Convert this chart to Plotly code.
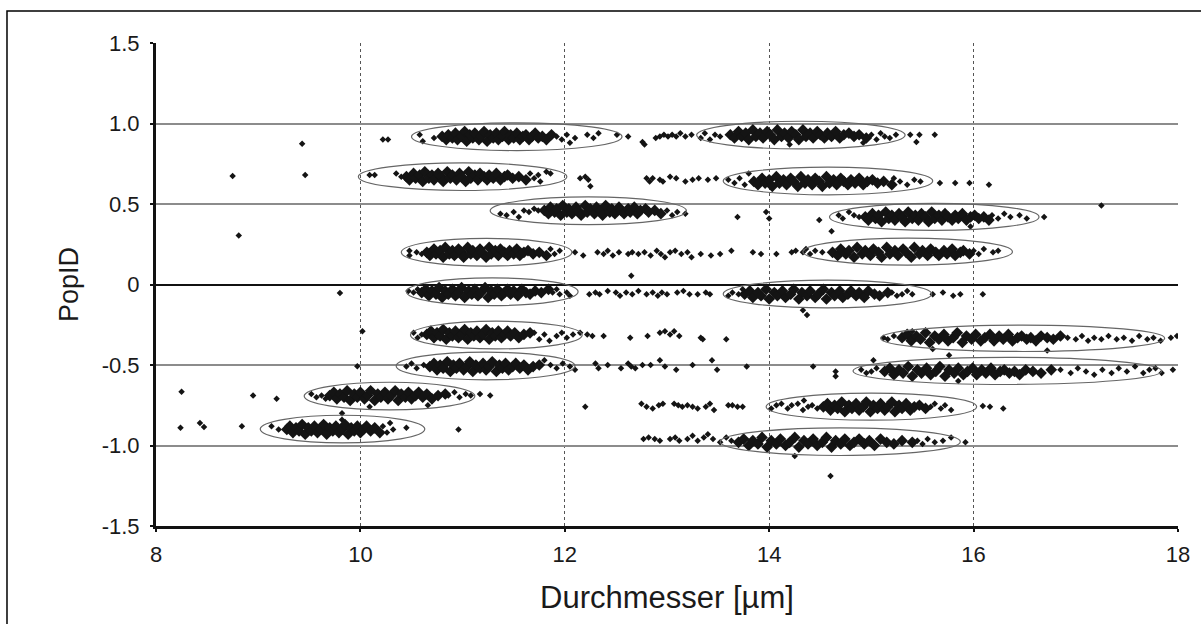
import plotly.graph_objects as go

# ---------------- data ----------------
x_ticks = [8, 10, 12, 14, 16, 18]
y_ticks = [-1.5, -1.0, -0.5, 0, 0.5, 1.0, 1.5]
y_ticktext = ["-1.5", "-1.0", "-0.5", "0", "0.5", "1.0", "1.5"]

# dense population cores (x = Durchmesser, y = PopID)
A_x = [10.80,10.84,10.86,10.90,10.93,10.95,10.99,11.02,11.04,11.07,11.10,11.12,11.16,11.18,11.21,11.24,11.27,11.30,11.33,11.35,11.39,11.41,11.45,11.47,11.50,11.53,11.56,11.59,11.62,11.65,11.68,11.71,11.74,11.78,11.82,11.87]
A_y = [0.92,0.90,0.93,0.91,0.94,0.90,0.92,0.95,0.89,0.93,0.91,0.94,0.90,0.92,0.95,0.89,0.93,0.91,0.94,0.90,0.92,0.95,0.90,0.93,0.91,0.94,0.90,0.92,0.93,0.90,0.92,0.94,0.91,0.92,0.90,0.93]
B_x = [10.45,10.48,10.52,10.54,10.58,10.61,10.63,10.67,10.70,10.72,10.76,10.79,10.81,10.85,10.88,10.90,10.94,10.97,10.99,11.03,11.06,11.08,11.12,11.15,11.17,11.21,11.24,11.26,11.30,11.33,11.37,11.41,11.44,11.49,11.55,11.62]
B_y = [0.67,0.65,0.69,0.66,0.68,0.64,0.70,0.66,0.68,0.65,0.69,0.67,0.64,0.70,0.66,0.68,0.65,0.69,0.67,0.64,0.70,0.66,0.68,0.65,0.69,0.67,0.65,0.68,0.66,0.69,0.65,0.67,0.68,0.66,0.67,0.65]
C_x = [11.80,11.84,11.86,11.90,11.92,11.96,11.98,12.02,12.04,12.07,12.11,12.13,12.16,12.20,12.22,12.25,12.29,12.31,12.35,12.37,12.40,12.44,12.46,12.49,12.53,12.55,12.58,12.62,12.64,12.68,12.71,12.74,12.79,12.82,12.88,12.94]
C_y = [0.46,0.44,0.48,0.45,0.47,0.43,0.49,0.45,0.47,0.44,0.48,0.46,0.43,0.49,0.45,0.47,0.44,0.48,0.46,0.43,0.49,0.45,0.47,0.44,0.48,0.46,0.44,0.47,0.45,0.48,0.44,0.46,0.47,0.45,0.46,0.44]
D_x = [10.65,10.68,10.72,10.74,10.78,10.81,10.83,10.87,10.90,10.92,10.96,10.99,11.01,11.05,11.08,11.10,11.14,11.17,11.19,11.23,11.26,11.28,11.32,11.35,11.37,11.41,11.44,11.46,11.50,11.53,11.56,11.60,11.64,11.69,11.75,11.82]
D_y = [0.20,0.18,0.22,0.19,0.21,0.17,0.23,0.19,0.21,0.18,0.22,0.20,0.17,0.23,0.19,0.21,0.18,0.22,0.20,0.17,0.23,0.19,0.21,0.18,0.22,0.20,0.18,0.21,0.19,0.22,0.18,0.20,0.21,0.19,0.20,0.18]
E_x = [10.60,10.64,10.67,10.70,10.74,10.77,10.80,10.83,10.86,10.90,10.93,10.96,10.99,11.02,11.06,11.09,11.12,11.15,11.18,11.22,11.25,11.28,11.31,11.34,11.38,11.41,11.44,11.47,11.50,11.54,11.58,11.62,11.66,11.71,11.77,11.84]
E_y = [-0.05,-0.03,-0.07,-0.04,-0.06,-0.02,-0.08,-0.04,-0.06,-0.03,-0.07,-0.05,-0.02,-0.08,-0.04,-0.06,-0.03,-0.07,-0.05,-0.02,-0.08,-0.04,-0.06,-0.03,-0.07,-0.05,-0.03,-0.06,-0.04,-0.07,-0.03,-0.05,-0.06,-0.04,-0.05,-0.03]
F_x = [13.62,13.66,13.70,13.73,13.77,13.80,13.84,13.87,13.91,13.94,13.98,14.01,14.05,14.08,14.12,14.15,14.19,14.22,14.26,14.29,14.33,14.36,14.40,14.43,14.47,14.50,14.54,14.57,14.61,14.65,14.69,14.73,14.78,14.83,14.88,14.95]
F_y = [0.93,0.91,0.95,0.92,0.94,0.90,0.96,0.92,0.94,0.91,0.95,0.93,0.90,0.96,0.92,0.94,0.91,0.95,0.93,0.90,0.96,0.92,0.94,0.91,0.95,0.93,0.91,0.94,0.92,0.95,0.91,0.93,0.94,0.92,0.93,0.91]
G_x = [13.85,13.89,13.93,13.96,14.00,14.03,14.07,14.10,14.14,14.17,14.21,14.24,14.28,14.31,14.35,14.38,14.42,14.45,14.49,14.52,14.56,14.59,14.63,14.66,14.70,14.73,14.77,14.80,14.84,14.88,14.92,14.96,15.01,15.06,15.12,15.20]
G_y = [0.64,0.62,0.66,0.63,0.65,0.61,0.67,0.63,0.65,0.62,0.66,0.64,0.61,0.67,0.63,0.65,0.62,0.66,0.64,0.61,0.67,0.63,0.65,0.62,0.66,0.64,0.62,0.65,0.63,0.66,0.62,0.64,0.65,0.63,0.64,0.62]
H_x = [14.94,14.97,15.01,15.04,15.07,15.10,15.14,15.17,15.20,15.23,15.27,15.30,15.33,15.36,15.40,15.43,15.46,15.49,15.53,15.56,15.59,15.62,15.66,15.69,15.72,15.75,15.79,15.82,15.85,15.89,15.93,15.97,16.01,16.05,16.10,16.15]
H_y = [0.42,0.40,0.44,0.41,0.43,0.39,0.45,0.41,0.43,0.40,0.44,0.42,0.39,0.45,0.41,0.43,0.40,0.44,0.42,0.39,0.45,0.41,0.43,0.40,0.44,0.42,0.40,0.43,0.41,0.44,0.40,0.42,0.43,0.41,0.42,0.40]
I_x = [14.62,14.67,14.70,14.75,14.78,14.83,14.86,14.91,14.94,14.99,15.02,15.07,15.10,15.15,15.18,15.23,15.26,15.31,15.34,15.39,15.42,15.47,15.50,15.55,15.58,15.63,15.66,15.71,15.74,15.79,15.82,15.87,15.90,15.96]
I_y = [0.20,0.18,0.22,0.19,0.21,0.17,0.23,0.19,0.21,0.18,0.22,0.20,0.17,0.23,0.19,0.21,0.18,0.22,0.20,0.17,0.23,0.19,0.21,0.18,0.22,0.20,0.18,0.21,0.19,0.22,0.18,0.20,0.21,0.19]
J_x = [13.76,13.81,13.84,13.89,13.92,13.97,14.00,14.05,14.08,14.13,14.16,14.21,14.24,14.29,14.32,14.37,14.40,14.45,14.48,14.53,14.56,14.61,14.64,14.69,14.72,14.77,14.80,14.85,14.88,14.93,14.97,15.03,15.08,15.16]
J_y = [-0.06,-0.04,-0.08,-0.05,-0.07,-0.03,-0.09,-0.05,-0.07,-0.04,-0.08,-0.06,-0.03,-0.09,-0.05,-0.07,-0.04,-0.08,-0.06,-0.03,-0.09,-0.05,-0.07,-0.04,-0.08,-0.06,-0.04,-0.07,-0.05,-0.08,-0.04,-0.06,-0.07,-0.05]
K_x = [15.30,15.35,15.39,15.44,15.48,15.53,15.57,15.62,15.66,15.71,15.75,15.80,15.84,15.89,15.93,15.98,16.02,16.07,16.11,16.16,16.20,16.25,16.29,16.34,16.38,16.43,16.47,16.52,16.56,16.61,16.66,16.72,16.78,16.85]
K_y = [-0.33,-0.31,-0.35,-0.32,-0.34,-0.30,-0.36,-0.32,-0.34,-0.31,-0.35,-0.33,-0.30,-0.36,-0.32,-0.34,-0.31,-0.35,-0.33,-0.31,-0.35,-0.32,-0.34,-0.31,-0.35,-0.33,-0.32,-0.34,-0.33,-0.35,-0.32,-0.33,-0.34,-0.32]
L_x = [15.13,15.18,15.22,15.27,15.31,15.36,15.40,15.45,15.49,15.54,15.58,15.63,15.67,15.72,15.76,15.81,15.85,15.90,15.94,15.99,16.03,16.08,16.12,16.17,16.21,16.26,16.30,16.35,16.40,16.45,16.51,16.58,16.66,16.76]
L_y = [-0.54,-0.52,-0.56,-0.53,-0.55,-0.51,-0.57,-0.53,-0.55,-0.52,-0.56,-0.54,-0.51,-0.57,-0.53,-0.55,-0.52,-0.56,-0.54,-0.52,-0.56,-0.53,-0.55,-0.52,-0.56,-0.54,-0.53,-0.55,-0.54,-0.56,-0.53,-0.54,-0.55,-0.53]
M_x = [10.65,10.69,10.72,10.75,10.78,10.81,10.84,10.87,10.90,10.93,10.96,10.99,11.02,11.05,11.08,11.11,11.14,11.17,11.20,11.23,11.26,11.29,11.32,11.35,11.38,11.41,11.44,11.47,11.51,11.55,11.60,11.66]
M_y = [-0.31,-0.29,-0.33,-0.30,-0.32,-0.28,-0.34,-0.30,-0.32,-0.29,-0.33,-0.31,-0.28,-0.34,-0.30,-0.32,-0.29,-0.33,-0.31,-0.28,-0.34,-0.30,-0.32,-0.29,-0.33,-0.31,-0.29,-0.32,-0.30,-0.33,-0.31,-0.30]
N_x = [10.68,10.72,10.75,10.78,10.81,10.85,10.88,10.91,10.94,10.97,11.01,11.04,11.07,11.10,11.13,11.17,11.20,11.23,11.26,11.29,11.33,11.36,11.39,11.42,11.45,11.49,11.52,11.56,11.60,11.64,11.69,11.75]
N_y = [-0.51,-0.49,-0.53,-0.50,-0.52,-0.48,-0.54,-0.50,-0.52,-0.49,-0.53,-0.51,-0.48,-0.54,-0.50,-0.52,-0.49,-0.53,-0.51,-0.48,-0.54,-0.50,-0.52,-0.49,-0.53,-0.51,-0.49,-0.52,-0.50,-0.53,-0.51,-0.50]
O_x = [9.70,9.74,9.77,9.80,9.84,9.87,9.90,9.94,9.97,10.00,10.04,10.07,10.10,10.14,10.17,10.20,10.24,10.27,10.30,10.34,10.37,10.40,10.44,10.47,10.50,10.54,10.57,10.61,10.65,10.70,10.76,10.83]
O_y = [-0.69,-0.67,-0.71,-0.68,-0.70,-0.66,-0.72,-0.68,-0.70,-0.67,-0.71,-0.69,-0.66,-0.72,-0.68,-0.70,-0.67,-0.71,-0.69,-0.66,-0.72,-0.68,-0.70,-0.67,-0.71,-0.69,-0.67,-0.70,-0.68,-0.71,-0.69,-0.68]
P_x = [9.28,9.31,9.34,9.37,9.40,9.43,9.46,9.49,9.52,9.55,9.58,9.61,9.64,9.67,9.70,9.73,9.76,9.79,9.82,9.85,9.88,9.91,9.94,9.97,10.00,10.03,10.06,10.10,10.14,10.19]
P_y = [-0.90,-0.88,-0.92,-0.89,-0.91,-0.87,-0.93,-0.89,-0.91,-0.88,-0.92,-0.90,-0.87,-0.93,-0.89,-0.91,-0.88,-0.92,-0.90,-0.87,-0.93,-0.89,-0.91,-0.88,-0.92,-0.90,-0.88,-0.91,-0.89,-0.92]
Q_x = [14.53,14.57,14.60,14.64,14.67,14.71,14.74,14.78,14.81,14.85,14.88,14.92,14.95,14.99,15.02,15.06,15.09,15.13,15.16,15.20,15.23,15.27,15.30,15.34,15.38,15.42,15.47,15.53]
Q_y = [-0.76,-0.74,-0.78,-0.75,-0.77,-0.73,-0.79,-0.75,-0.77,-0.74,-0.78,-0.76,-0.73,-0.79,-0.75,-0.77,-0.74,-0.78,-0.76,-0.73,-0.79,-0.75,-0.77,-0.74,-0.78,-0.76,-0.75,-0.77]
R_x = [13.70,13.75,13.80,13.84,13.89,13.93,13.98,14.02,14.07,14.11,14.16,14.20,14.25,14.29,14.34,14.38,14.43,14.47,14.52,14.56,14.61,14.65,14.70,14.74,14.79,14.83,14.88,14.93,14.98,15.03,15.09,15.15,15.22,15.30,15.40]
R_y = [-0.98,-0.96,-1.00,-0.97,-0.99,-0.95,-1.01,-0.97,-0.99,-0.96,-1.00,-0.98,-0.95,-1.01,-0.97,-0.99,-0.96,-1.00,-0.98,-0.95,-1.01,-0.97,-0.99,-0.96,-1.00,-0.98,-0.96,-0.99,-0.97,-1.00,-0.96,-0.98,-0.99,-0.97,-0.98]

# sparse / scattered events (x, y)
sparse_top = [(10.22,0.90),(10.27,0.90),(10.58,0.93),(10.61,0.89),(10.72,0.91),(11.92,0.92),(11.97,0.90),(12.02,0.93),
              (12.05,0.88),(12.10,0.91),(12.22,0.93),(12.28,0.91),(12.33,0.94),(12.51,0.93),(12.62,0.92),(12.76,0.885),
              (12.78,0.87),(12.89,0.91),(12.93,0.92),(12.97,0.93),(13.01,0.92),(13.05,0.93),(13.09,0.92),(13.13,0.94),
              (13.18,0.92),(13.24,0.93),(13.33,0.91),(13.37,0.94),(13.42,0.90),(13.47,0.93),(13.52,0.92),(15.00,0.93),
              (15.05,0.90),(15.09,0.94),(15.13,0.92),(15.18,0.91),(15.24,0.93),(15.38,0.93),(15.44,0.885),(15.47,0.93),
              (15.62,0.93),(14.20,0.87),(14.92,0.88),(9.43,0.875)]
sparse_b = [(8.75,0.674),(9.46,0.68),(10.09,0.68),(10.14,0.68),(10.35,0.69),(10.40,0.67),(11.66,0.69),(11.70,0.66),
            (11.74,0.68),(11.76,0.64),(11.82,0.70),(11.86,0.69),(12.15,0.66),(12.20,0.67),(12.23,0.65),(12.25,0.61),
            (12.80,0.66),(12.83,0.64),(12.86,0.66),(12.93,0.65),(12.96,0.64),(13.03,0.67),(13.09,0.66),(13.18,0.64),
            (13.25,0.65),(13.31,0.66),(13.40,0.65),(13.48,0.66),(13.60,0.65),(13.66,0.63),(13.71,0.66),(13.76,0.62),
            (13.80,0.69),(15.22,0.66),(15.28,0.64),(15.35,0.62),(15.42,0.65),(15.48,0.64),(15.67,0.63),(15.82,0.63),
            (15.96,0.63),(16.15,0.62)]
sparse_c = [(11.37,0.44),(11.43,0.43),(11.50,0.45),(11.55,0.42),(11.60,0.46),(11.65,0.45),(11.70,0.47),(11.74,0.46),
            (13.00,0.46),(13.05,0.43),(13.10,0.45),(13.18,0.44),(14.49,0.40),(14.61,0.33),(14.68,0.43),(14.72,0.41),
            (14.78,0.45),(14.83,0.43),(14.88,0.42),(16.18,0.43),(16.24,0.41),(16.30,0.44),(16.36,0.42),(16.45,0.43),
            (16.52,0.41),(16.69,0.42),(17.25,0.49),(13.69,0.42),(13.97,0.45),(14.00,0.41),(15.97,0.36)]
sparse_d = [(8.81,0.305),(10.48,0.21),(10.48,0.18),(10.55,0.20),(10.60,0.19),(11.86,0.22),(11.90,0.19),(11.95,0.21),
            (12.10,0.20),(12.18,0.18),(12.32,0.20),(12.38,0.19),(12.42,0.21),(12.47,0.18),(12.53,0.20),(12.62,0.19),
            (12.66,0.20),(12.72,0.19),(12.78,0.20),(12.84,0.18),(12.90,0.21),(12.94,0.19),(12.98,0.17),(13.03,0.20),
            (13.08,0.21),(13.14,0.19),(13.20,0.20),(13.24,0.17),(13.33,0.19),(13.43,0.18),(13.52,0.19),(13.63,0.21),
            (13.84,0.20),(13.92,0.19),(14.07,0.19),(14.22,0.20),(14.26,0.21),(14.33,0.20),(14.36,0.22),(14.40,0.19),
            (14.45,0.21),(14.52,0.20),(16.00,0.21),(16.05,0.19),(16.10,0.22),(16.19,0.20),(16.24,0.21)]
sparse_e = [(9.80,-0.053),(10.47,-0.04),(10.52,-0.05),(10.56,-0.03),(11.88,-0.05),(11.92,-0.03),(11.95,-0.06),
            (12.02,-0.05),(12.05,-0.07),(12.24,-0.06),(12.30,-0.05),(12.34,-0.06),(12.42,-0.04),(12.50,-0.05),
            (12.54,-0.07),(12.60,-0.05),(12.66,-0.06),(12.72,-0.04),(12.80,-0.06),(12.86,-0.05),(12.91,-0.07),
            (12.95,-0.05),(13.00,-0.06),(13.10,-0.05),(13.16,-0.04),(13.22,-0.06),(13.38,-0.05),(13.42,-0.06),
            (12.65,0.055),(13.60,-0.07),(13.64,-0.05),(13.70,-0.06),(15.20,-0.05),(15.25,-0.07),(15.30,-0.06),
            (15.35,-0.04),(15.40,-0.06),(15.60,-0.06),(15.70,-0.05),(15.80,-0.07),(15.87,-0.06),(16.09,-0.06),
            (14.33,-0.16),(14.37,-0.19),(13.30,-0.06),(13.74,-0.03)]
sparse_m = [(10.02,-0.29),(10.52,-0.30),(10.56,-0.33),(10.60,-0.31),(11.70,-0.30),(11.75,-0.34),(11.80,-0.31),
            (11.85,-0.35),(11.92,-0.32),(11.97,-0.30),(12.02,-0.33),(12.08,-0.31),(12.15,-0.30),(12.22,-0.31),
            (12.27,-0.32),(12.38,-0.32),(12.64,-0.33),(12.81,-0.32),(12.93,-0.30),(12.98,-0.29),(13.03,-0.31),
            (13.07,-0.29),(13.12,-0.32),(13.33,-0.33),(13.35,-0.34),(13.58,-0.34),(15.12,-0.33),(15.16,-0.34),
            (15.22,-0.32),(16.92,-0.33),(17.00,-0.34),(17.06,-0.32),(17.12,-0.35),(17.18,-0.33),(17.25,-0.34),
            (17.32,-0.32),(17.40,-0.34),(17.47,-0.33),(17.55,-0.35),(17.62,-0.32),(17.70,-0.34),(17.76,-0.33),
            (17.83,-0.35),(17.93,-0.33),(17.99,-0.32),(15.60,-0.40),(15.76,-0.44),(16.72,-0.41),(15.40,-0.29)]
sparse_n = [(9.97,-0.507),(10.45,-0.51),(10.50,-0.49),(10.55,-0.52),(10.62,-0.50),(11.80,-0.47),(11.86,-0.50),
            (11.92,-0.52),(11.98,-0.49),(12.05,-0.51),(12.10,-0.53),(12.30,-0.49),(12.33,-0.52),(12.42,-0.50),
            (12.55,-0.52),(12.62,-0.49),(12.65,-0.51),(12.69,-0.52),(12.76,-0.50),(12.84,-0.50),(12.93,-0.47),
            (12.98,-0.51),(13.09,-0.53),(13.25,-0.50),(13.44,-0.47),(13.49,-0.53),(13.78,-0.51),(14.43,-0.51),
            (14.65,-0.54),(14.65,-0.57),(14.90,-0.53),(14.95,-0.55),(15.00,-0.54),(15.05,-0.52),(16.85,-0.53),
            (16.95,-0.55),(17.02,-0.52),(17.10,-0.54),(17.18,-0.56),(17.26,-0.53),(17.35,-0.55),(17.42,-0.52),
            (17.50,-0.54),(17.58,-0.51),(17.66,-0.55),(17.72,-0.53),(17.78,-0.52),(17.84,-0.55),(17.95,-0.53),
            (15.02,-0.47),(15.85,-0.60)]
sparse_o = [(8.25,-0.666),(8.95,-0.69),(9.18,-0.71),(9.52,-0.68),(9.57,-0.70),(9.62,-0.69),(9.66,-0.71),(10.09,-0.76),
            (10.66,-0.75),(10.86,-0.69),(10.92,-0.67),(10.97,-0.70),(11.03,-0.68),(11.08,-0.69),(11.17,-0.68),
            (11.27,-0.69),(12.20,-0.76),(12.75,-0.74),(12.80,-0.76),(12.86,-0.77),(12.92,-0.75),(12.96,-0.74),
            (13.07,-0.74),(13.11,-0.75),(13.15,-0.76),(13.20,-0.75),(13.25,-0.76),(13.30,-0.77),(13.38,-0.76),
            (13.42,-0.74),(13.46,-0.78),(13.60,-0.75),(13.64,-0.75),(13.69,-0.76),(13.74,-0.76),(14.02,-0.77),
            (14.07,-0.75),(14.12,-0.74),(14.18,-0.77),(14.22,-0.75),(14.28,-0.74),(14.33,-0.78),(14.38,-0.76),
            (14.42,-0.75),(14.47,-0.77),(14.34,-0.72),(15.58,-0.76),(15.62,-0.74),(15.68,-0.77),(15.72,-0.75),
            (15.78,-0.78),(16.09,-0.755),(16.16,-0.76),(16.29,-0.77)]
sparse_p = [(8.24,-0.89),(8.43,-0.86),(8.47,-0.885),(8.84,-0.88),(9.13,-0.88),(9.20,-0.90),(9.82,-0.80),(9.82,-0.84),
            (10.22,-0.88),(10.26,-0.92),(10.29,-0.86),(10.32,-0.90),(10.45,-0.89),(10.96,-0.90),(12.77,-0.96),
            (12.82,-0.95),(12.88,-0.96),(12.93,-0.97),(13.03,-0.96),(13.08,-0.95),(13.12,-0.97),(13.20,-0.96),
            (13.25,-0.94),(13.30,-0.97),(13.36,-0.95),(13.40,-0.93),(13.45,-0.96),(13.52,-0.98),(13.58,-0.95),
            (13.63,-0.97),(14.25,-1.065),(14.60,-1.19),(15.45,-0.97),(15.50,-0.99),(15.55,-0.96),(15.62,-0.98),
            (15.70,-0.97),(15.78,-0.95),(15.92,-0.98)]

# population gates (ellipses): left, right, centre PopID, half height
gate_x0 = [10.50, 9.98, 11.27, 10.40, 10.45, 13.29, 13.55, 14.59, 14.33, 13.55, 15.09, 14.82, 10.49, 10.35, 9.45, 9.02, 13.97, 13.52]
gate_x1 = [12.56, 12.02, 13.19, 12.07, 12.13, 15.33, 15.60, 16.64, 16.38, 15.59, 17.87, 17.84, 12.17, 12.10, 11.12, 10.63, 16.03, 15.87]
gate_yc = [0.918, 0.670, 0.458, 0.200, -0.045, 0.928, 0.643, 0.420, 0.204, -0.059, -0.334, -0.537, -0.314, -0.506, -0.693, -0.898, -0.759, -0.976]
gate_h = [0.086, 0.086, 0.086, 0.086, 0.086, 0.086, 0.086, 0.084, 0.084, 0.086, 0.082, 0.084, 0.086, 0.086, 0.086, 0.086, 0.084, 0.086]

# ---------------- figure ----------------
core_x = A_x + B_x + C_x + D_x + E_x + F_x + G_x + H_x + I_x + J_x + K_x + L_x + M_x + N_x + O_x + P_x + Q_x + R_x
core_y = A_y + B_y + C_y + D_y + E_y + F_y + G_y + H_y + I_y + J_y + K_y + L_y + M_y + N_y + O_y + P_y + Q_y + R_y
sparse_all = sparse_top + sparse_b + sparse_c + sparse_d + sparse_e + sparse_m + sparse_n + sparse_o + sparse_p

fig = go.Figure()
fig.add_trace(go.Scatter(x=core_x, y=core_y, mode="markers",
                         marker=dict(symbol="diamond", size=9, color="#141414", line=dict(width=0)),
                         showlegend=False, hoverinfo="skip"))
fig.add_trace(go.Scatter(x=[p[0] for p in sparse_all], y=[p[1] for p in sparse_all], mode="markers",
                         marker=dict(symbol="diamond", size=5, color="#141414", line=dict(width=0)),
                         showlegend=False, hoverinfo="skip"))

shapes = []
for x0, x1, yc, h in zip(gate_x0, gate_x1, gate_yc, gate_h):
    shapes.append(dict(type="circle", xref="x", yref="y", x0=x0, x1=x1, y0=yc - h, y1=yc + h,
                       line=dict(color="#666666", width=1.2), layer="above"))
# outer picture frame
shapes.append(dict(type="rect", xref="paper", yref="paper", x0=-0.1458, x1=1.2, y0=-0.4, y1=1.0663,
                   line=dict(color="#000000", width=1.5), layer="below"))

font = "Liberation Sans, Arial, sans-serif"
tick_font = dict(family=font, size=22, color="#1a1a1a")
fig.update_layout(
    width=1201, height=624,
    margin=dict(l=156, r=23, t=43, b=98),
    paper_bgcolor="white", plot_bgcolor="white",
    shapes=shapes,
    font=dict(family=font, size=22, color="#1a1a1a"),
    xaxis=dict(range=[8, 18], tickvals=x_ticks, ticktext=[str(v) for v in x_ticks],
               tickfont=tick_font,
               showgrid=True, gridcolor="#555555", gridwidth=1, griddash="dot",
               zeroline=False, showline=True, linecolor="#111111", linewidth=3,
               ticks="outside", ticklen=3, tickwidth=2, tickcolor="#111111",
               ticklabelstandoff=4,
               title=dict(text="Durchmesser [µm]", font=dict(family=font, size=31, color="#1a1a1a"), standoff=20)),
    yaxis=dict(range=[-1.5, 1.5], tickvals=y_ticks, ticktext=y_ticktext,
               tickfont=tick_font,
               showgrid=True, gridcolor="#8c8c8c", gridwidth=2,
               zeroline=True, zerolinecolor="#111111", zerolinewidth=2,
               showline=True, linecolor="#111111", linewidth=3,
               ticks="outside", ticklen=3, tickwidth=2, tickcolor="#111111",
               ticklabelstandoff=6,
               title=dict(text="PopID", font=dict(family=font, size=27, color="#1a1a1a"), standoff=16)),
)

fig.write_html("out.html")
